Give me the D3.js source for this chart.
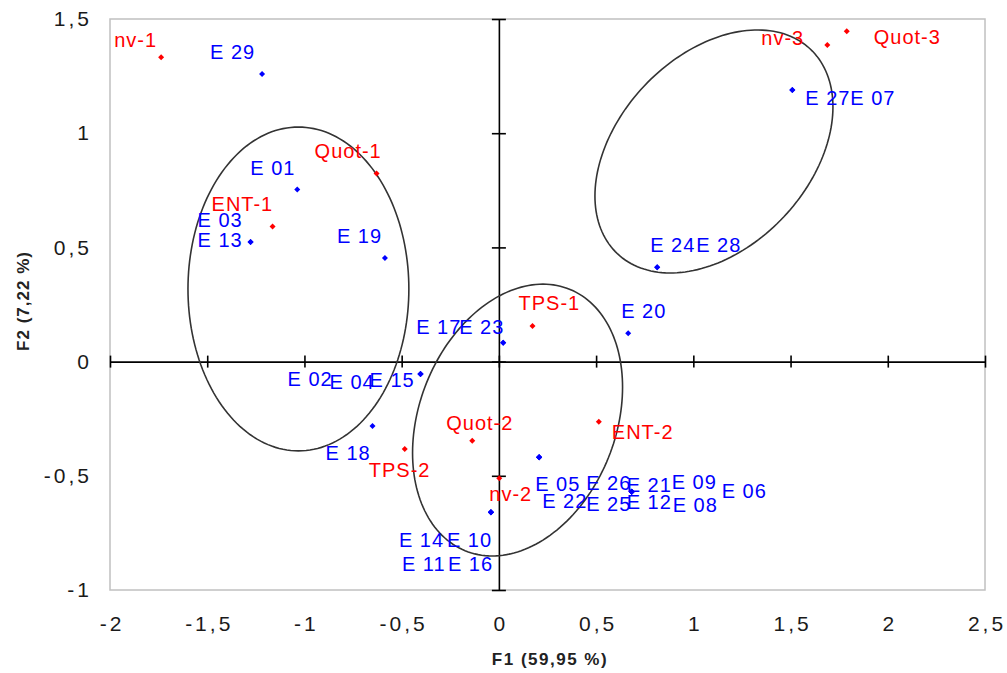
<!DOCTYPE html>
<html>
<head>
<meta charset="utf-8">
<script src="https://cdn.jsdelivr.net/npm/d3@7"></script>
<style>
  html, body { margin: 0; padding: 0; background: #fff; }
  svg { display: block; font-family: "Liberation Sans", Arial, sans-serif; }
</style>
</head>
<body>
<svg width="1007" height="673"></svg>
<script>
// Variables (red)
var VAR_NAMES = ["nv-1", "Quot-1", "ENT-1", "nv-3", "Quot-3", "TPS-1", "Quot-2", "ENT-2", "TPS-2", "nv-2"];
var VAR_F1 = [-1.737, -0.629, -1.164, 1.689, 1.789, 0.173, -0.137, 0.514, -0.484, 0.002];
var VAR_F2 = [1.332, 0.824, 0.591, 1.386, 1.446, 0.156, -0.346, -0.263, -0.383, -0.511];

// Individuals (blue)
var IND_NAMES = ["E 29", "E 01", "E 03", "E 13", "E 19", "E 02", "E 04", "E 15", "E 18",
  "E 17", "E 23", "E 20", "E 24", "E 28", "E 27", "E 07",
  "E 05", "E 26", "E 22", "E 25", "E 21", "E 09", "E 06", "E 12", "E 08",
  "E 14", "E 10", "E 11", "E 16"];
var IND_F1 = [-1.218, -1.037, -1.277, -1.277, -0.586, -0.403, -0.403, -0.403, -0.650,
  0.022, 0.022, 0.665, 0.814, 0.814, 1.509, 1.509,
  0.207, 0.207, 0.207, 0.207, 0.683, 0.683, 0.683, 0.683, 0.683,
  -0.041, -0.041, -0.041, -0.041];
var IND_F2 = [1.259, 0.754, 0.524, 0.524, 0.454, -0.054, -0.054, -0.054, -0.282,
  0.083, 0.083, 0.124, 0.413, 0.413, 1.189, 1.189,
  -0.419, -0.419, -0.419, -0.419, -0.570, -0.570, -0.570, -0.570, -0.570,
  -0.660, -0.660, -0.660, -0.660];

var X_TICKS = [-2, -1.5, -1, -0.5, 0, 0.5, 1, 1.5, 2, 2.5];
var Y_TICKS = [-1, -0.5, 0, 0.5, 1, 1.5];

// Ellipses: centre, half extents along F1/F2, phase (deg) between x and y
var ELL_CX = [-1.031, 0.096, 1.106];
var ELL_CY = [0.318, -0.256, 0.920];
var ELL_RX = [0.568, 0.540, 0.612];
var ELL_RY = [0.709, 0.595, 0.532];
var ELL_PHASE = [90, 76, 68.5];

// label placement, pixel offset from the point
var LABEL_OFFSET = {
  "nv-1": [-47, -10], "Quot-1": [-62, -15], "ENT-1": [-61, -16], "nv-3": [-66, 0],
  "Quot-3": [27, 13], "TPS-1": [-14, -16], "Quot-2": [-26, -11], "ENT-2": [13, 17],
  "TPS-2": [-36, 28], "nv-2": [-10, 23],
  "E 29": [-52, -15], "E 01": [-47, -14], "E 03": [-53, -15], "E 13": [-53, 5],
  "E 19": [-48, -15], "E 02": [-133, 12], "E 04": [-91, 15], "E 15": [-51, 13],
  "E 18": [-47, 34], "E 17": [-87, -9], "E 23": [-44, -9], "E 20": [-7, -15],
  "E 24": [-7, -15], "E 28": [39, -15], "E 27": [13, 15], "E 07": [58, 15],
  "E 05": [-4, 34], "E 26": [47, 33], "E 22": [3, 51], "E 25": [47, 54],
  "E 21": [-5, 0], "E 09": [40, -3], "E 06": [90, 6], "E 12": [-5, 17], "E 08": [41, 20],
  "E 14": [-92, 35], "E 10": [-44, 35], "E 11": [-89, 59], "E 16": [-43, 59]
};

var svg = d3.select("svg");
var plot = { left: 110, right: 985, top: 19, bottom: 590 };

var x = d3.scaleLinear().domain([-2, 2.5]).range([plot.left, plot.right]);
var y = d3.scaleLinear().domain([-1, 1.5]).range([plot.bottom, plot.top]);

var fmt = function (d) { return String(d).replace(".", ","); };

// Plot frame
svg.append("rect")
  .attr("x", plot.left)
  .attr("y", plot.top)
  .attr("width", plot.right - plot.left)
  .attr("height", plot.bottom - plot.top)
  .attr("fill", "none")
  .attr("stroke", "#c0c0c0")
  .attr("stroke-width", 1.5);

// Tick labels on the outside
var xLab = svg.append("g")
  .attr("transform", "translate(0," + plot.bottom + ")")
  .call(d3.axisBottom(x).tickValues(X_TICKS).tickSize(0).tickPadding(26).tickFormat(fmt));
var yLab = svg.append("g")
  .attr("transform", "translate(" + plot.left + ",0)")
  .call(d3.axisLeft(y).tickValues(Y_TICKS).tickSize(0).tickPadding(18).tickFormat(fmt));
[xLab, yLab].forEach(function (g) {
  g.select(".domain").remove();
  g.attr("font-family", null).attr("font-size", null);
  g.selectAll("text")
    .style("font-size", "21px")
    .style("letter-spacing", "3px")
    .attr("fill", "#1a1a1a");
});
xLab.selectAll("text").attr("dx", 1.5);

// Centre axes with ticks crossing the line
var xAxis = svg.append("g")
  .attr("transform", "translate(0," + y(0) + ")")
  .call(d3.axisBottom(x).tickValues(X_TICKS).tickSizeOuter(0).tickFormat(""));
var yAxis = svg.append("g")
  .attr("transform", "translate(" + x(0) + ",0)")
  .call(d3.axisLeft(y).tickValues(Y_TICKS).tickSizeOuter(0).tickFormat(""));
xAxis.selectAll(".tick line").attr("y1", -6).attr("y2", 6);
yAxis.selectAll(".tick line").attr("x1", -7).attr("x2", 7);
[xAxis, yAxis].forEach(function (g) {
  g.selectAll("line, path").attr("stroke", "#000").attr("stroke-width", 1.6);
});

// Ellipses
var ellLine = d3.line()
  .x(function (d) { return x(d[0]); })
  .y(function (d) { return y(d[1]); })
  .curve(d3.curveLinearClosed);
ELL_CX.forEach(function (cx, i) {
  var ph = ELL_PHASE[i] * Math.PI / 180;
  var pts = d3.range(0, 2 * Math.PI, Math.PI / 90).map(function (t) {
    return [cx + ELL_RX[i] * Math.cos(t), ELL_CY[i] + ELL_RY[i] * Math.cos(t - ph)];
  });
  svg.append("path")
    .attr("d", ellLine(pts))
    .attr("fill", "none")
    .attr("stroke", "#333")
    .attr("stroke-width", 1.6);
});

// Points and labels
var vars = VAR_NAMES.map(function (n, i) { return { name: n, f1: VAR_F1[i], f2: VAR_F2[i], color: "#ff0000" }; });
var inds = IND_NAMES.map(function (n, i) { return { name: n, f1: IND_F1[i], f2: IND_F2[i], color: "#0000ff" }; });
var all = inds.concat(vars);

var marker = d3.symbol().type(d3.symbolSquare).size(18);
svg.append("g").selectAll("path")
  .data(all)
  .enter()
  .append("path")
  .attr("d", marker)
  .attr("transform", function (d) { return "translate(" + x(d.f1) + "," + y(d.f2) + ")rotate(45)"; })
  .attr("fill", function (d) { return d.color; });

svg.append("g").selectAll("text")
  .data(all)
  .enter()
  .append("text")
  .attr("x", function (d) { return x(d.f1) + LABEL_OFFSET[d.name][0]; })
  .attr("y", function (d) { return y(d.f2) + LABEL_OFFSET[d.name][1]; })
  .style("font-size", "20px")
  .style("letter-spacing", "1px")
  .attr("fill", function (d) { return d.color; })
  .text(function (d) { return d.name; });

// Axis titles
svg.append("text")
  .attr("x", 550)
  .attr("y", 665)
  .attr("text-anchor", "middle")
  .style("font-size", "17px")
  .style("font-weight", "bold")
  .style("letter-spacing", "1.5px")
  .attr("fill", "#222")
  .text("F1 (59,95 %)");

svg.append("text")
  .attr("transform", "translate(29,301)rotate(-90)")
  .attr("text-anchor", "middle")
  .style("font-size", "17px")
  .style("font-weight", "bold")
  .style("letter-spacing", "1px")
  .attr("fill", "#222")
  .text("F2 (7,22 %)");
</script>
</body>
</html>
